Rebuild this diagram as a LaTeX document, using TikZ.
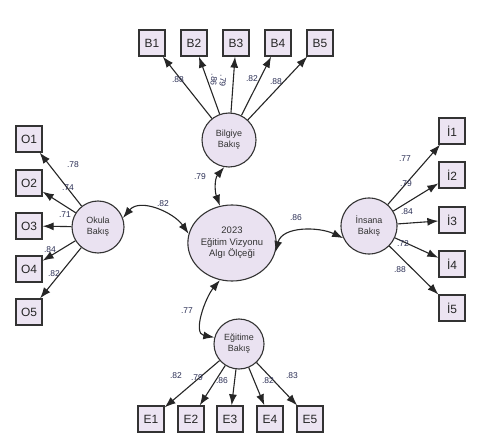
\documentclass[tikz,border=0pt]{standalone}
\usepackage{fontspec}
\setmainfont{Liberation Sans}
\usetikzlibrary{arrows.meta,shapes.geometric}
\definecolor{boxfill}{HTML}{ECE4F2}
\definecolor{circfill}{HTML}{EAE2F1}
\definecolor{edge}{HTML}{333333}
\definecolor{numcol}{HTML}{2B2F55}
\tikzset{
  obs/.style={draw=edge,line width=1.3bp,fill=boxfill,minimum size=26bp,inner sep=0pt,font=\fontsize{12}{12}\selectfont,text=black!85},
  lat/.style={circle,draw=edge,line width=1.1bp,fill=circfill,inner sep=0pt,align=center,font=\fontsize{9}{11}\selectfont,text=black!80},
  load/.style={-{Latex[length=11bp,width=8bp]},line width=1.1bp,draw=black!85},
  cov/.style={{Latex[length=11bp,width=8bp]}-{Latex[length=11bp,width=8bp]},line width=1.1bp,draw=black!85},
  num/.style={font=\fontsize{8.5}{8.5}\selectfont,text=numcol,inner sep=0pt}
}
\begin{document}
\begin{tikzpicture}[x=1bp,y=-1bp]
\useasboundingbox (0,0) rectangle (484,448);
\fill[white] (0,0) rectangle (484,448);
% central
\node[ellipse,draw=edge,line width=1.1bp,fill=circfill,minimum width=88bp,minimum height=76bp,inner sep=0pt,align=center,font=\fontsize{9.5}{11.5}\selectfont,text=black!80] (C) at (232,243) {2023\\Eğitim Vizyonu\\Algı Ölçeği};
% latent factors
\node[lat,minimum size=54bp] (Bil) at (229,140) {Bilgiye\\Bakış};
\node[lat,minimum size=52bp] (Ok) at (98,227) {Okula\\Bakış};
\node[lat,minimum size=56bp] (Ins) at (369,226) {İnsana\\Bakış};
\node[lat,minimum size=50bp] (Eg) at (239,344) {Eğitime\\Bakış};
% B boxes
\node[obs] (B1) at (152,43) {B1};
\node[obs] (B2) at (194,43) {B2};
\node[obs] (B3) at (236,43) {B3};
\node[obs] (B4) at (278,43) {B4};
\node[obs] (B5) at (320,43) {B5};
% O boxes
\node[obs] (O1) at (29,139) {O1};
\node[obs] (O2) at (29,183) {O2};
\node[obs] (O3) at (29,226) {O3};
\node[obs] (O4) at (29,269) {O4};
\node[obs] (O5) at (29,312) {O5};
% I boxes
\node[obs] (I1) at (452,131) {İ1};
\node[obs] (I2) at (452,175) {İ2};
\node[obs] (I3) at (452,220) {İ3};
\node[obs] (I4) at (452,264) {İ4};
\node[obs] (I5) at (452,308) {İ5};
% E boxes
\node[obs] (E1) at (151,419) {E1};
\node[obs] (E2) at (191,419) {E2};
\node[obs] (E3) at (230,419) {E3};
\node[obs] (E4) at (270,419) {E4};
\node[obs] (E5) at (310,419) {E5};
% loadings
\foreach \b in {B1,B2,B3,B4,B5} \draw[load] (Bil) -- (\b);
\foreach \b in {O1,O2,O3,O4,O5} \draw[load] (Ok) -- (\b);
\foreach \b in {I1,I2,I3,I4,I5} \draw[load] (Ins) -- (\b);
\foreach \b in {E1,E2,E3,E4,E5} \draw[load] (Eg) -- (\b);
% covariances
\draw[cov] (Bil.-100) to[out=-130,in=110] (C.108);
\draw[cov] (Ok.20) to[out=50,in=125] (C.168);
\draw[cov] (C.-12) to[out=75,in=155] (Ins.205);
\draw[cov] (C.-108) to[out=-130,in=170] (Eg.165);
% loading labels
\node[num] (lb1) at (178,80) {.88};
\node[num,rotate=-95] (lb2) at (214,80) {.86};
\node[num,rotate=-95] (lb3) at (223,81) {.79};
\node[num] (lb4) at (252,79) {.82};
\node[num] (lb5) at (276,82) {.88};
\node[num] (lo1) at (73,165) {.78};
\node[num] (lo2) at (68,188) {.74};
\node[num] (lo3) at (65,215) {.71};
\node[num] (lo4) at (50,250) {.84};
\node[num] (lo5) at (54,274) {.82};
\node[num] (li1) at (405,159) {.77};
\node[num] (li2) at (406,184) {.79};
\node[num] (li3) at (407,212) {.84};
\node[num] (li4) at (403,244) {.72};
\node[num] (li5) at (400,270) {.88};
\node[num] (le1) at (176,376) {.82};
\node[num] (le2) at (197,378) {.79};
\node[num] (le3) at (222,381) {.86};
\node[num] (le4) at (268,381) {.82};
\node[num] (le5) at (292,376) {.83};
% covariance labels
\node[num] (cb) at (200,177) {.79};
\node[num] (co) at (163,204) {.82};
\node[num] (ci) at (296,218) {.86};
\node[num] (ce) at (187,311) {.77};
\end{tikzpicture}
\end{document}
